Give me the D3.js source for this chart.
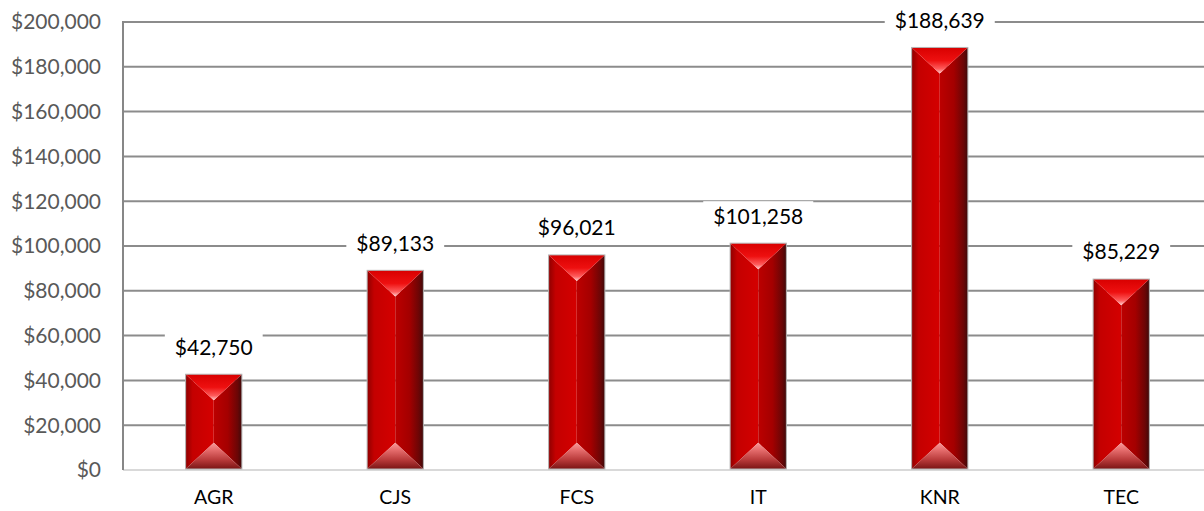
<!DOCTYPE html>
<html>
<head>
<meta charset="utf-8">
<script src="https://cdn.jsdelivr.net/npm/d3@7"></script>
<style>
  body { margin: 0; background: #fff; }
  svg { display: block; font-family: Lato, "Open Sans", sans-serif; }
</style>
</head>
<body>
<svg id="chart" width="1204" height="511"></svg>
<script>
// Data
var categories = ["AGR", "CJS", "FCS", "IT", "KNR", "TEC"];
var values = [42750, 89133, 96021, 101258, 188639, 85229];
var yTicks = [0, 20000, 40000, 60000, 80000, 100000, 120000, 140000, 160000, 180000, 200000];

var svg = d3.select("#chart");

var plotLeft = 123, plotRight = 1212, plotTop = 22, plotBottom = 470;

var x = d3.scaleBand()
    .domain(categories)
    .range([plotLeft, plotRight])
    .paddingInner(0.69)
    .paddingOuter(0.345);

var y = d3.scaleLinear()
    .domain([0, 200000])
    .range([plotBottom, plotTop]);

var money = d3.format("$,");

// gradients for the bevelled bars
var defs = svg.append("defs");

function grad(id, x1, y1, x2, y2, stops) {
  var g = defs.append("linearGradient")
    .attr("id", id)
    .attr("x1", x1).attr("y1", y1)
    .attr("x2", x2).attr("y2", y2);
  stops.forEach(function(s) {
    g.append("stop").attr("offset", s[0]).attr("stop-color", s[1]);
  });
}

grad("gLeft", 0, 0, 1, 0, [[0, "#8e0000"], [0.25, "#c40000"], [1, "#d40000"]]);
grad("gRight", 0, 0, 1, 0, [[0, "#bc0000"], [0.5, "#a40000"], [0.85, "#6a0606"], [1, "#3e0a0a"]]);
grad("gTop", 0, 0, 0, 1, [[0, "#d80000"], [0.5, "#ee1010"], [0.82, "#ff5c5c"], [1, "#ffd0d0"]]);
grad("gBottom", 0, 1, 0, 0, [[0, "#7a1414"], [0.35, "#b83a3a"], [0.75, "#e87070"], [1, "#f89a9a"]]);

// y gridlines
svg.append("g")
  .selectAll("line")
  .data(yTicks.filter(function(d) { return d > 0; }))
  .enter().append("line")
    .attr("x1", plotLeft)
    .attr("x2", 1204)
    .attr("y1", function(d) { return y(d); })
    .attr("y2", function(d) { return y(d); })
    .attr("stroke", "#8c8c8c")
    .attr("stroke-width", 2);

// y tick labels
svg.append("g")
  .selectAll("text")
  .data(yTicks)
  .enter().append("text")
    .attr("x", 101)
    .attr("y", function(d) { return y(d); })
    .attr("dy", "0.35em")
    .attr("text-anchor", "end")
    .attr("fill", "#595959")
    .style("font-size", "21px")
    .text(function(d) { return money(d); });

// axes lines
svg.append("line")
  .attr("x1", plotLeft).attr("x2", 1204)
  .attr("y1", y(0)).attr("y2", y(0))
  .attr("stroke", "#d9d9d9")
  .attr("stroke-width", 2);

svg.append("line")
  .attr("x1", plotLeft).attr("x2", plotLeft)
  .attr("y1", y(200000) - 1).attr("y2", y(0))
  .attr("stroke", "#878787")
  .attr("stroke-width", 2);

// bars
var bars = svg.append("g")
  .selectAll(".bar")
  .data(categories.map(function(c, i) { return {cat: c, val: values[i]}; }))
  .enter().append("g")
    .attr("class", "bar");

bars.each(function(d) {
  var g = d3.select(this),
      x0 = x(d.cat),
      x1 = x0 + x.bandwidth(),
      xm = (x0 + x1) / 2,
      y0 = y(d.val),
      y1 = y(0) - 1,
      b = Math.min(x.bandwidth() / 2 - 2, (y1 - y0) / 2);

  function poly(pts, fill) {
    g.append("polygon")
      .attr("points", pts.map(function(p) { return p.join(","); }).join(" "))
      .attr("fill", fill);
  }

  poly([[x0, y0], [xm, y0 + b], [xm, y1 - b], [x0, y1]], "url(#gLeft)");
  poly([[x1, y0], [xm, y0 + b], [xm, y1 - b], [x1, y1]], "url(#gRight)");
  poly([[x0, y0], [x1, y0], [xm, y0 + b]], "url(#gTop)");
  poly([[x0, y1], [x1, y1], [xm, y1 - b]], "url(#gBottom)");

  g.append("rect")
    .attr("x", x0)
    .attr("y", y0)
    .attr("width", x1 - x0)
    .attr("height", y1 - y0)
    .attr("fill", "none")
    .attr("stroke", "#b4b4b4")
    .attr("stroke-width", 1);

  // data label with white box
  var lab = g.append("g")
    .attr("transform", "translate(" + xm + "," + (y0 - 27) + ")");
  var box = lab.append("rect").attr("fill", "#fff");
  var t = lab.append("text")
    .attr("text-anchor", "middle")
    .attr("dy", "0.35em")
    .attr("fill", "#000")
    .style("font-size", "21px")
    .text(money(d.val));
  var w = t.node().getComputedTextLength() + 20;
  box.attr("x", -w / 2).attr("y", -15).attr("width", w).attr("height", 30);
});

// x labels
svg.append("g")
  .selectAll("text")
  .data(categories)
  .enter().append("text")
    .attr("x", function(d) { return x(d) + x.bandwidth() / 2; })
    .attr("y", 497)
    .attr("dy", "0.35em")
    .attr("text-anchor", "middle")
    .attr("fill", "#000")
    .style("font-size", "19.5px")
    .text(function(d) { return d; });
</script>
</body>
</html>
